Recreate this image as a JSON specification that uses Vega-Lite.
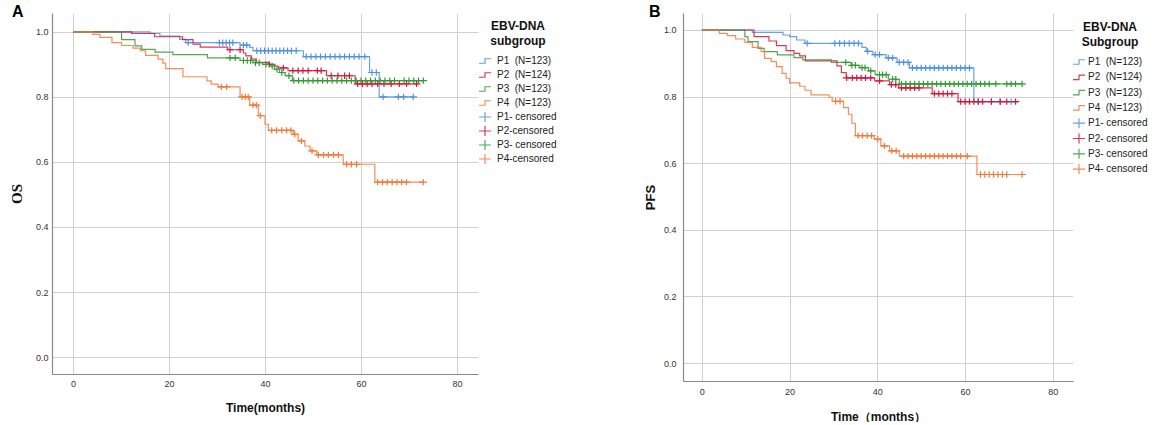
{
"$schema": "https://vega.github.io/schema/vega-lite/v6.json",
"background": "white",
"padding": {"left": 9, "top": 4, "right": 0, "bottom": 0},
"bounds": "flush",
"spacing": 205,
"config": {
  "font": "Liberation Sans",
  "view": {"stroke": null},
  "axis": {"grid": true, "gridColor": "#d0d0d0", "gridWidth": 1, "domainColor": "#8a8a8a", "domainWidth": 1.2, "ticks": false, "labelFont": "Liberation Sans", "labelFontSize": 9, "labelColor": "#333333", "titleColor": "#111111", "titleFontWeight": "bold"},
  "legend": {"gridAlign": "all"},
  "title": {"color": "#000000"}
},
"datasets": {
"curvesA": [
{"g":"P1\u00a0\u00a0(N=123)","t":0,"s":1},{"g":"P1\u00a0\u00a0(N=123)","t":16,"s":0.995},{"g":"P1\u00a0\u00a0(N=123)","t":18.1,"s":0.987},{"g":"P1\u00a0\u00a0(N=123)","t":22.2,"s":0.977},{"g":"P1\u00a0\u00a0(N=123)","t":23.5,"s":0.967},{"g":"P1\u00a0\u00a0(N=123)","t":34.8,"s":0.959},{"g":"P1\u00a0\u00a0(N=123)","t":36.8,"s":0.952},{"g":"P1\u00a0\u00a0(N=123)","t":37.5,"s":0.942},{"g":"P1\u00a0\u00a0(N=123)","t":48,"s":0.924},{"g":"P1\u00a0\u00a0(N=123)","t":61.8,"s":0.875},{"g":"P1\u00a0\u00a0(N=123)","t":63.8,"s":0.8},{"g":"P1\u00a0\u00a0(N=123)","t":71,"s":0.8},
{"g":"P2\u00a0\u00a0(N=124)","t":0,"s":1},{"g":"P2\u00a0\u00a0(N=124)","t":12.2,"s":0.995},{"g":"P2\u00a0\u00a0(N=124)","t":17,"s":0.985},{"g":"P2\u00a0\u00a0(N=124)","t":22.8,"s":0.976},{"g":"P2\u00a0\u00a0(N=124)","t":25,"s":0.962},{"g":"P2\u00a0\u00a0(N=124)","t":26.5,"s":0.953},{"g":"P2\u00a0\u00a0(N=124)","t":32.2,"s":0.945},{"g":"P2\u00a0\u00a0(N=124)","t":35.5,"s":0.935},{"g":"P2\u00a0\u00a0(N=124)","t":36,"s":0.926},{"g":"P2\u00a0\u00a0(N=124)","t":37.2,"s":0.916},{"g":"P2\u00a0\u00a0(N=124)","t":38.2,"s":0.906},{"g":"P2\u00a0\u00a0(N=124)","t":40.7,"s":0.9},{"g":"P2\u00a0\u00a0(N=124)","t":42.1,"s":0.895},{"g":"P2\u00a0\u00a0(N=124)","t":42.8,"s":0.889},{"g":"P2\u00a0\u00a0(N=124)","t":44.8,"s":0.881},{"g":"P2\u00a0\u00a0(N=124)","t":52.8,"s":0.865},{"g":"P2\u00a0\u00a0(N=124)","t":58.8,"s":0.84},{"g":"P2\u00a0\u00a0(N=124)","t":72,"s":0.84},
{"g":"P3\u00a0\u00a0(N=123)","t":0,"s":1},{"g":"P3\u00a0\u00a0(N=123)","t":10.1,"s":0.976},{"g":"P3\u00a0\u00a0(N=123)","t":12.9,"s":0.957},{"g":"P3\u00a0\u00a0(N=123)","t":14.3,"s":0.946},{"g":"P3\u00a0\u00a0(N=123)","t":17.1,"s":0.938},{"g":"P3\u00a0\u00a0(N=123)","t":20.8,"s":0.93},{"g":"P3\u00a0\u00a0(N=123)","t":28,"s":0.92},{"g":"P3\u00a0\u00a0(N=123)","t":34.8,"s":0.912},{"g":"P3\u00a0\u00a0(N=123)","t":37.5,"s":0.905},{"g":"P3\u00a0\u00a0(N=123)","t":39.5,"s":0.9},{"g":"P3\u00a0\u00a0(N=123)","t":41,"s":0.895},{"g":"P3\u00a0\u00a0(N=123)","t":42,"s":0.885},{"g":"P3\u00a0\u00a0(N=123)","t":43,"s":0.875},{"g":"P3\u00a0\u00a0(N=123)","t":44.2,"s":0.865},{"g":"P3\u00a0\u00a0(N=123)","t":45.7,"s":0.85},{"g":"P3\u00a0\u00a0(N=123)","t":73,"s":0.85},
{"g":"P4\u00a0\u00a0(N=123)","t":0,"s":1},{"g":"P4\u00a0\u00a0(N=123)","t":4.1,"s":0.992},{"g":"P4\u00a0\u00a0(N=123)","t":5.6,"s":0.983},{"g":"P4\u00a0\u00a0(N=123)","t":8.1,"s":0.967},{"g":"P4\u00a0\u00a0(N=123)","t":10.1,"s":0.958},{"g":"P4\u00a0\u00a0(N=123)","t":12.5,"s":0.95},{"g":"P4\u00a0\u00a0(N=123)","t":14,"s":0.942},{"g":"P4\u00a0\u00a0(N=123)","t":15.1,"s":0.928},{"g":"P4\u00a0\u00a0(N=123)","t":17.7,"s":0.916},{"g":"P4\u00a0\u00a0(N=123)","t":18.7,"s":0.904},{"g":"P4\u00a0\u00a0(N=123)","t":19.3,"s":0.887},{"g":"P4\u00a0\u00a0(N=123)","t":22.9,"s":0.862},{"g":"P4\u00a0\u00a0(N=123)","t":27.9,"s":0.849},{"g":"P4\u00a0\u00a0(N=123)","t":28.8,"s":0.839},{"g":"P4\u00a0\u00a0(N=123)","t":30.2,"s":0.831},{"g":"P4\u00a0\u00a0(N=123)","t":34.8,"s":0.8},{"g":"P4\u00a0\u00a0(N=123)","t":36.8,"s":0.775},{"g":"P4\u00a0\u00a0(N=123)","t":38.6,"s":0.742},{"g":"P4\u00a0\u00a0(N=123)","t":40,"s":0.716},{"g":"P4\u00a0\u00a0(N=123)","t":40.7,"s":0.697},{"g":"P4\u00a0\u00a0(N=123)","t":45.9,"s":0.685},{"g":"P4\u00a0\u00a0(N=123)","t":46.9,"s":0.665},{"g":"P4\u00a0\u00a0(N=123)","t":48.3,"s":0.649},{"g":"P4\u00a0\u00a0(N=123)","t":49.4,"s":0.634},{"g":"P4\u00a0\u00a0(N=123)","t":50.8,"s":0.622},{"g":"P4\u00a0\u00a0(N=123)","t":56.3,"s":0.593},{"g":"P4\u00a0\u00a0(N=123)","t":62.9,"s":0.538},{"g":"P4\u00a0\u00a0(N=123)","t":73,"s":0.538}
],
"censA": [
{"g":"P1- censored","t":24,"s":0.967},{"g":"P1- censored","t":30.5,"s":0.967},{"g":"P1- censored","t":31.2,"s":0.967},{"g":"P1- censored","t":31.9,"s":0.967},{"g":"P1- censored","t":32.6,"s":0.967},{"g":"P1- censored","t":33.3,"s":0.967},{"g":"P1- censored","t":35.5,"s":0.959},{"g":"P1- censored","t":36.2,"s":0.959},
{"g":"P1- censored","t":38.3,"s":0.942},{"g":"P1- censored","t":39.1,"s":0.942},{"g":"P1- censored","t":39.9,"s":0.942},{"g":"P1- censored","t":40.7,"s":0.942},{"g":"P1- censored","t":41.5,"s":0.942},{"g":"P1- censored","t":42.3,"s":0.942},{"g":"P1- censored","t":43.1,"s":0.942},{"g":"P1- censored","t":43.9,"s":0.942},{"g":"P1- censored","t":44.7,"s":0.942},{"g":"P1- censored","t":45.5,"s":0.942},{"g":"P1- censored","t":46.5,"s":0.942},
{"g":"P1- censored","t":48.6,"s":0.924},{"g":"P1- censored","t":49.6,"s":0.924},{"g":"P1- censored","t":50.6,"s":0.924},{"g":"P1- censored","t":51.6,"s":0.924},{"g":"P1- censored","t":52.6,"s":0.924},{"g":"P1- censored","t":53.6,"s":0.924},{"g":"P1- censored","t":54.6,"s":0.924},{"g":"P1- censored","t":55.6,"s":0.924},{"g":"P1- censored","t":56.6,"s":0.924},{"g":"P1- censored","t":57.6,"s":0.924},{"g":"P1- censored","t":58.6,"s":0.924},{"g":"P1- censored","t":59.6,"s":0.924},{"g":"P1- censored","t":60.8,"s":0.924},
{"g":"P1- censored","t":62.3,"s":0.875},{"g":"P1- censored","t":63.2,"s":0.875},{"g":"P1- censored","t":64.6,"s":0.8},{"g":"P1- censored","t":67.8,"s":0.8},{"g":"P1- censored","t":68.9,"s":0.8},{"g":"P1- censored","t":70.9,"s":0.8},
{"g":"P2-censored","t":32.7,"s":0.945},{"g":"P2-censored","t":34.8,"s":0.945},{"g":"P2-censored","t":40.9,"s":0.9},{"g":"P2-censored","t":43.8,"s":0.889},{"g":"P2-censored","t":45.8,"s":0.881},{"g":"P2-censored","t":46.9,"s":0.881},{"g":"P2-censored","t":47.9,"s":0.881},{"g":"P2-censored","t":49,"s":0.881},{"g":"P2-censored","t":50.9,"s":0.881},{"g":"P2-censored","t":51.7,"s":0.881},
{"g":"P2-censored","t":53.8,"s":0.865},{"g":"P2-censored","t":55.2,"s":0.865},{"g":"P2-censored","t":56.6,"s":0.865},{"g":"P2-censored","t":57.6,"s":0.865},
{"g":"P2-censored","t":59.3,"s":0.84},{"g":"P2-censored","t":60.3,"s":0.84},{"g":"P2-censored","t":61.3,"s":0.84},{"g":"P2-censored","t":62.3,"s":0.84},{"g":"P2-censored","t":63.5,"s":0.84},{"g":"P2-censored","t":64.8,"s":0.84},{"g":"P2-censored","t":66.3,"s":0.84},{"g":"P2-censored","t":68,"s":0.84},{"g":"P2-censored","t":69.5,"s":0.84},{"g":"P2-censored","t":71.6,"s":0.84},
{"g":"P3- censored","t":32.7,"s":0.92},{"g":"P3- censored","t":33.8,"s":0.92},{"g":"P3- censored","t":35.5,"s":0.912},{"g":"P3- censored","t":36.3,"s":0.912},{"g":"P3- censored","t":37,"s":0.912},{"g":"P3- censored","t":38,"s":0.905},{"g":"P3- censored","t":38.8,"s":0.905},{"g":"P3- censored","t":40.2,"s":0.9},{"g":"P3- censored","t":41.5,"s":0.895},{"g":"P3- censored","t":42.5,"s":0.885},{"g":"P3- censored","t":43.5,"s":0.875},{"g":"P3- censored","t":45,"s":0.865},
{"g":"P3- censored","t":46,"s":0.85},{"g":"P3- censored","t":47,"s":0.85},{"g":"P3- censored","t":48,"s":0.85},{"g":"P3- censored","t":49,"s":0.85},{"g":"P3- censored","t":50,"s":0.85},{"g":"P3- censored","t":51,"s":0.85},{"g":"P3- censored","t":52,"s":0.85},{"g":"P3- censored","t":53,"s":0.85},{"g":"P3- censored","t":54,"s":0.85},{"g":"P3- censored","t":55,"s":0.85},{"g":"P3- censored","t":56,"s":0.85},{"g":"P3- censored","t":57,"s":0.85},{"g":"P3- censored","t":58,"s":0.85},{"g":"P3- censored","t":59,"s":0.85},{"g":"P3- censored","t":60,"s":0.85},{"g":"P3- censored","t":61,"s":0.85},{"g":"P3- censored","t":62,"s":0.85},{"g":"P3- censored","t":63,"s":0.85},{"g":"P3- censored","t":64,"s":0.85},{"g":"P3- censored","t":65,"s":0.85},{"g":"P3- censored","t":66,"s":0.85},{"g":"P3- censored","t":67,"s":0.85},{"g":"P3- censored","t":69,"s":0.85},{"g":"P3- censored","t":70,"s":0.85},{"g":"P3- censored","t":71,"s":0.85},{"g":"P3- censored","t":72,"s":0.85},{"g":"P3- censored","t":73,"s":0.85},
{"g":"P4-censored","t":30.9,"s":0.831},{"g":"P4-censored","t":32,"s":0.831},{"g":"P4-censored","t":35.2,"s":0.8},{"g":"P4-censored","t":35.9,"s":0.8},{"g":"P4-censored","t":36.5,"s":0.8},{"g":"P4-censored","t":37.5,"s":0.775},{"g":"P4-censored","t":38.2,"s":0.775},{"g":"P4-censored","t":39,"s":0.742},
{"g":"P4-censored","t":41.4,"s":0.697},{"g":"P4-censored","t":42.4,"s":0.697},{"g":"P4-censored","t":43.5,"s":0.697},{"g":"P4-censored","t":44.5,"s":0.697},{"g":"P4-censored","t":45.4,"s":0.697},{"g":"P4-censored","t":46.2,"s":0.685},{"g":"P4-censored","t":47.6,"s":0.665},{"g":"P4-censored","t":49.8,"s":0.634},
{"g":"P4-censored","t":51.1,"s":0.622},{"g":"P4-censored","t":52.2,"s":0.622},{"g":"P4-censored","t":53.2,"s":0.622},{"g":"P4-censored","t":54.3,"s":0.622},{"g":"P4-censored","t":55.3,"s":0.622},{"g":"P4-censored","t":57,"s":0.593},{"g":"P4-censored","t":58,"s":0.593},{"g":"P4-censored","t":59.1,"s":0.593},
{"g":"P4-censored","t":63.5,"s":0.538},{"g":"P4-censored","t":64.5,"s":0.538},{"g":"P4-censored","t":65.5,"s":0.538},{"g":"P4-censored","t":66.5,"s":0.538},{"g":"P4-censored","t":67.5,"s":0.538},{"g":"P4-censored","t":68.5,"s":0.538},{"g":"P4-censored","t":69.5,"s":0.538},{"g":"P4-censored","t":73,"s":0.538}
],
"curvesB": [
{"g":"P1\u00a0\u00a0(N=123)","t":0,"s":1},{"g":"P1\u00a0\u00a0(N=123)","t":11.5,"s":0.993},{"g":"P1\u00a0\u00a0(N=123)","t":18.5,"s":0.985},{"g":"P1\u00a0\u00a0(N=123)","t":20,"s":0.98},{"g":"P1\u00a0\u00a0(N=123)","t":21.6,"s":0.97},{"g":"P1\u00a0\u00a0(N=123)","t":23.5,"s":0.96},{"g":"P1\u00a0\u00a0(N=123)","t":36.5,"s":0.948},{"g":"P1\u00a0\u00a0(N=123)","t":37.5,"s":0.936},{"g":"P1\u00a0\u00a0(N=123)","t":39,"s":0.926},{"g":"P1\u00a0\u00a0(N=123)","t":42,"s":0.916},{"g":"P1\u00a0\u00a0(N=123)","t":44.5,"s":0.903},{"g":"P1\u00a0\u00a0(N=123)","t":47.3,"s":0.886},{"g":"P1\u00a0\u00a0(N=123)","t":62,"s":0.785},{"g":"P1\u00a0\u00a0(N=123)","t":72,"s":0.785},
{"g":"P2\u00a0\u00a0(N=124)","t":0,"s":1},{"g":"P2\u00a0\u00a0(N=124)","t":11.9,"s":0.98},{"g":"P2\u00a0\u00a0(N=124)","t":15.3,"s":0.967},{"g":"P2\u00a0\u00a0(N=124)","t":17,"s":0.953},{"g":"P2\u00a0\u00a0(N=124)","t":19.2,"s":0.938},{"g":"P2\u00a0\u00a0(N=124)","t":21,"s":0.93},{"g":"P2\u00a0\u00a0(N=124)","t":22.3,"s":0.922},{"g":"P2\u00a0\u00a0(N=124)","t":23.6,"s":0.907},{"g":"P2\u00a0\u00a0(N=124)","t":30.8,"s":0.892},{"g":"P2\u00a0\u00a0(N=124)","t":31.8,"s":0.872},{"g":"P2\u00a0\u00a0(N=124)","t":32.9,"s":0.856},{"g":"P2\u00a0\u00a0(N=124)","t":39.4,"s":0.847},{"g":"P2\u00a0\u00a0(N=124)","t":42.8,"s":0.836},{"g":"P2\u00a0\u00a0(N=124)","t":44.9,"s":0.826},{"g":"P2\u00a0\u00a0(N=124)","t":52.5,"s":0.809},{"g":"P2\u00a0\u00a0(N=124)","t":58.4,"s":0.785},{"g":"P2\u00a0\u00a0(N=124)","t":72,"s":0.785},
{"g":"P3\u00a0\u00a0(N=123)","t":0,"s":1},{"g":"P3\u00a0\u00a0(N=123)","t":9.8,"s":0.98},{"g":"P3\u00a0\u00a0(N=123)","t":10.5,"s":0.965},{"g":"P3\u00a0\u00a0(N=123)","t":12.8,"s":0.945},{"g":"P3\u00a0\u00a0(N=123)","t":14.2,"s":0.935},{"g":"P3\u00a0\u00a0(N=123)","t":17.2,"s":0.925},{"g":"P3\u00a0\u00a0(N=123)","t":21,"s":0.917},{"g":"P3\u00a0\u00a0(N=123)","t":23,"s":0.91},{"g":"P3\u00a0\u00a0(N=123)","t":29.5,"s":0.903},{"g":"P3\u00a0\u00a0(N=123)","t":34,"s":0.894},{"g":"P3\u00a0\u00a0(N=123)","t":36,"s":0.887},{"g":"P3\u00a0\u00a0(N=123)","t":38,"s":0.877},{"g":"P3\u00a0\u00a0(N=123)","t":39.5,"s":0.866},{"g":"P3\u00a0\u00a0(N=123)","t":42.5,"s":0.852},{"g":"P3\u00a0\u00a0(N=123)","t":45,"s":0.838},{"g":"P3\u00a0\u00a0(N=123)","t":73,"s":0.838},
{"g":"P4\u00a0\u00a0(N=123)","t":0,"s":1},{"g":"P4\u00a0\u00a0(N=123)","t":4,"s":0.99},{"g":"P4\u00a0\u00a0(N=123)","t":5.8,"s":0.983},{"g":"P4\u00a0\u00a0(N=123)","t":7.7,"s":0.973},{"g":"P4\u00a0\u00a0(N=123)","t":9.8,"s":0.963},{"g":"P4\u00a0\u00a0(N=123)","t":11.5,"s":0.948},{"g":"P4\u00a0\u00a0(N=123)","t":13.5,"s":0.935},{"g":"P4\u00a0\u00a0(N=123)","t":14.3,"s":0.915},{"g":"P4\u00a0\u00a0(N=123)","t":15.8,"s":0.905},{"g":"P4\u00a0\u00a0(N=123)","t":17,"s":0.89},{"g":"P4\u00a0\u00a0(N=123)","t":18.3,"s":0.87},{"g":"P4\u00a0\u00a0(N=123)","t":19.2,"s":0.855},{"g":"P4\u00a0\u00a0(N=123)","t":20,"s":0.841},{"g":"P4\u00a0\u00a0(N=123)","t":22.3,"s":0.831},{"g":"P4\u00a0\u00a0(N=123)","t":23.5,"s":0.819},{"g":"P4\u00a0\u00a0(N=123)","t":24.9,"s":0.805},{"g":"P4\u00a0\u00a0(N=123)","t":29,"s":0.798},{"g":"P4\u00a0\u00a0(N=123)","t":29.7,"s":0.786},{"g":"P4\u00a0\u00a0(N=123)","t":32.3,"s":0.767},{"g":"P4\u00a0\u00a0(N=123)","t":33.4,"s":0.747},{"g":"P4\u00a0\u00a0(N=123)","t":34.2,"s":0.72},{"g":"P4\u00a0\u00a0(N=123)","t":35,"s":0.683},{"g":"P4\u00a0\u00a0(N=123)","t":39.3,"s":0.672},{"g":"P4\u00a0\u00a0(N=123)","t":40.8,"s":0.652},{"g":"P4\u00a0\u00a0(N=123)","t":42.8,"s":0.637},{"g":"P4\u00a0\u00a0(N=123)","t":45,"s":0.621},{"g":"P4\u00a0\u00a0(N=123)","t":62.7,"s":0.566},{"g":"P4\u00a0\u00a0(N=123)","t":73,"s":0.566}
],
"censB": [
{"g":"P1- censored","t":24,"s":0.96},{"g":"P1- censored","t":30.3,"s":0.96},{"g":"P1- censored","t":31.4,"s":0.96},{"g":"P1- censored","t":32.5,"s":0.96},{"g":"P1- censored","t":33.6,"s":0.96},{"g":"P1- censored","t":34.7,"s":0.96},{"g":"P1- censored","t":35.7,"s":0.96},{"g":"P1- censored","t":37.8,"s":0.936},{"g":"P1- censored","t":39.5,"s":0.926},{"g":"P1- censored","t":40.5,"s":0.926},{"g":"P1- censored","t":42.5,"s":0.916},{"g":"P1- censored","t":43.5,"s":0.916},{"g":"P1- censored","t":45,"s":0.903},{"g":"P1- censored","t":46,"s":0.903},{"g":"P1- censored","t":47,"s":0.903},
{"g":"P1- censored","t":48,"s":0.886},{"g":"P1- censored","t":49,"s":0.886},{"g":"P1- censored","t":50,"s":0.886},{"g":"P1- censored","t":51,"s":0.886},{"g":"P1- censored","t":52,"s":0.886},{"g":"P1- censored","t":53,"s":0.886},{"g":"P1- censored","t":54,"s":0.886},{"g":"P1- censored","t":55,"s":0.886},{"g":"P1- censored","t":56,"s":0.886},{"g":"P1- censored","t":57,"s":0.886},{"g":"P1- censored","t":58,"s":0.886},{"g":"P1- censored","t":59,"s":0.886},{"g":"P1- censored","t":60,"s":0.886},{"g":"P1- censored","t":61,"s":0.886},
{"g":"P1- censored","t":63,"s":0.785},{"g":"P1- censored","t":66,"s":0.785},{"g":"P1- censored","t":68,"s":0.785},{"g":"P1- censored","t":70.5,"s":0.785},
{"g":"P2- censored","t":33,"s":0.856},{"g":"P2- censored","t":34.3,"s":0.856},{"g":"P2- censored","t":35.3,"s":0.856},{"g":"P2- censored","t":36.3,"s":0.856},{"g":"P2- censored","t":37.3,"s":0.856},{"g":"P2- censored","t":38.5,"s":0.856},{"g":"P2- censored","t":40.5,"s":0.847},{"g":"P2- censored","t":43.2,"s":0.836},{"g":"P2- censored","t":44.2,"s":0.836},
{"g":"P2- censored","t":45.5,"s":0.826},{"g":"P2- censored","t":46.5,"s":0.826},{"g":"P2- censored","t":47.5,"s":0.826},{"g":"P2- censored","t":48.5,"s":0.826},{"g":"P2- censored","t":49.5,"s":0.826},
{"g":"P2- censored","t":53,"s":0.809},{"g":"P2- censored","t":54,"s":0.809},{"g":"P2- censored","t":55,"s":0.809},{"g":"P2- censored","t":56,"s":0.809},{"g":"P2- censored","t":57,"s":0.809},
{"g":"P2- censored","t":59,"s":0.785},{"g":"P2- censored","t":60,"s":0.785},{"g":"P2- censored","t":61,"s":0.785},{"g":"P2- censored","t":62,"s":0.785},{"g":"P2- censored","t":63,"s":0.785},{"g":"P2- censored","t":64,"s":0.785},{"g":"P2- censored","t":66,"s":0.785},{"g":"P2- censored","t":68,"s":0.785},{"g":"P2- censored","t":69.5,"s":0.785},{"g":"P2- censored","t":71.5,"s":0.785},
{"g":"P3- censored","t":32.8,"s":0.903},{"g":"P3- censored","t":34.2,"s":0.894},{"g":"P3- censored","t":35,"s":0.894},{"g":"P3- censored","t":36.5,"s":0.887},{"g":"P3- censored","t":37.2,"s":0.887},{"g":"P3- censored","t":38.5,"s":0.877},{"g":"P3- censored","t":40.5,"s":0.866},{"g":"P3- censored","t":41.2,"s":0.866},{"g":"P3- censored","t":42,"s":0.866},{"g":"P3- censored","t":43.5,"s":0.852},{"g":"P3- censored","t":44.2,"s":0.852},
{"g":"P3- censored","t":45.5,"s":0.838},{"g":"P3- censored","t":46.5,"s":0.838},{"g":"P3- censored","t":47.5,"s":0.838},{"g":"P3- censored","t":48.5,"s":0.838},{"g":"P3- censored","t":49.5,"s":0.838},{"g":"P3- censored","t":50.5,"s":0.838},{"g":"P3- censored","t":51.5,"s":0.838},{"g":"P3- censored","t":52.5,"s":0.838},{"g":"P3- censored","t":53.5,"s":0.838},{"g":"P3- censored","t":54.5,"s":0.838},{"g":"P3- censored","t":55.5,"s":0.838},{"g":"P3- censored","t":56.5,"s":0.838},{"g":"P3- censored","t":57.5,"s":0.838},{"g":"P3- censored","t":58.5,"s":0.838},{"g":"P3- censored","t":59.5,"s":0.838},{"g":"P3- censored","t":60.5,"s":0.838},{"g":"P3- censored","t":61.5,"s":0.838},{"g":"P3- censored","t":62.5,"s":0.838},{"g":"P3- censored","t":63.5,"s":0.838},{"g":"P3- censored","t":64.5,"s":0.838},{"g":"P3- censored","t":65.5,"s":0.838},{"g":"P3- censored","t":67,"s":0.838},{"g":"P3- censored","t":69.5,"s":0.838},{"g":"P3- censored","t":70.5,"s":0.838},{"g":"P3- censored","t":71.5,"s":0.838},{"g":"P3- censored","t":73,"s":0.838},
{"g":"P4- censored","t":30.5,"s":0.786},{"g":"P4- censored","t":31.5,"s":0.786},{"g":"P4- censored","t":35.6,"s":0.683},{"g":"P4- censored","t":36.6,"s":0.683},{"g":"P4- censored","t":37.7,"s":0.683},{"g":"P4- censored","t":38.7,"s":0.683},{"g":"P4- censored","t":40.1,"s":0.672},{"g":"P4- censored","t":41.6,"s":0.652},{"g":"P4- censored","t":43.3,"s":0.637},{"g":"P4- censored","t":44.3,"s":0.637},
{"g":"P4- censored","t":46,"s":0.621},{"g":"P4- censored","t":47,"s":0.621},{"g":"P4- censored","t":48,"s":0.621},{"g":"P4- censored","t":49,"s":0.621},{"g":"P4- censored","t":50,"s":0.621},{"g":"P4- censored","t":51,"s":0.621},{"g":"P4- censored","t":52,"s":0.621},{"g":"P4- censored","t":53,"s":0.621},{"g":"P4- censored","t":54,"s":0.621},{"g":"P4- censored","t":55,"s":0.621},{"g":"P4- censored","t":56,"s":0.621},{"g":"P4- censored","t":57,"s":0.621},{"g":"P4- censored","t":58,"s":0.621},{"g":"P4- censored","t":59,"s":0.621},{"g":"P4- censored","t":60.5,"s":0.621},
{"g":"P4- censored","t":63.5,"s":0.566},{"g":"P4- censored","t":64.5,"s":0.566},{"g":"P4- censored","t":65.5,"s":0.566},{"g":"P4- censored","t":66.5,"s":0.566},{"g":"P4- censored","t":67.5,"s":0.566},{"g":"P4- censored","t":68.5,"s":0.566},{"g":"P4- censored","t":69.5,"s":0.566},{"g":"P4- censored","t":73,"s":0.566}
]
},
"resolve": {"scale": {"color": "independent", "shape": "independent"}, "legend": {"color": "independent", "shape": "independent"}},
"hconcat": [
{
  "width": 426, "height": 361,
  "title": {"text": "A", "anchor": "start", "frame": "group", "dx": -40, "dy": 20, "offset": 0, "fontSize": 16, "fontWeight": "bold", "baseline": "alphabetic", "font": "Liberation Sans"},
  "encoding": {
    "x": {"field": "t", "type": "quantitative", "scale": {"domain": [-4.4, 84.4], "nice": false, "zero": false}, "axis": {"values": [0,20,40,60,80], "format": "d", "title": "Time(months)", "titleFontSize": 12, "labelPadding": 5, "titlePadding": 14}},
    "y": {"field": "s", "type": "quantitative", "scale": {"domain": [-0.052, 1.058], "nice": false, "zero": false}, "axis": {"values": [0,0.2,0.4,0.6,0.8,1], "format": ".1f", "title": "OS", "titleFont": "Liberation Serif", "titleFontSize": 15, "labelPadding": 4, "titlePadding": 11}},
    "color": {"field": "g", "type": "nominal",
      "scale": {"domain": ["P1\u00a0\u00a0(N=123)","P2\u00a0\u00a0(N=124)","P3\u00a0\u00a0(N=123)","P4\u00a0\u00a0(N=123)","P1- censored","P2-censored","P3- censored","P4-censored"], "range": ["#4F93E0","#D2173F","#359A35","#F27A3A","#4F93E0","#D2173F","#359A35","#F27A3A"]},
      "legend": {"orient": "none", "legendX": 427, "legendY": 8, "title": ["EBV-DNA", "subgroup"], "titleAnchor": "middle", "titleAlign": "center", "titleFontSize": 12, "titleFontWeight": "bold", "titleLineHeight": 15, "titlePadding": 7, "titleColor": "#111111", "labelFontSize": 10, "labelColor": "#222222", "symbolSize": 100, "rowPadding": -2.3, "labelOffset": 6, "symbolStrokeWidth": 1.2, "padding": 0, "gridAlign": "all", "encode": {"symbols": {"update": {"fill": {"value": "transparent"}}}}}
    }
  },
  "layer": [
    {"data": {"name": "curvesA"}, "mark": {"type": "line", "interpolate": "step-after", "strokeWidth": 1.2, "opacity": 0.85}},
    {"data": {"name": "censA"}, "mark": {"type": "point", "size": 40, "filled": false, "strokeWidth": 1.2, "opacity": 1},
     "encoding": {"shape": {"field": "g", "type": "nominal",
       "scale": {"domain": ["P1\u00a0\u00a0(N=123)","P2\u00a0\u00a0(N=124)","P3\u00a0\u00a0(N=123)","P4\u00a0\u00a0(N=123)","P1- censored","P2-censored","P3- censored","P4-censored"], "range": ["M-1.2,0.45H0V-0.45H1.2","M-1.2,0.45H0V-0.45H1.2","M-1.2,0.45H0V-0.45H1.2","M-1.2,0.45H0V-0.45H1.2","M-1.2,0H1.2M0,-1V1","M-1.2,0H1.2M0,-1V1","M-1.2,0H1.2M0,-1V1","M-1.2,0H1.2M0,-1V1"]},
       "legend": {"orient": "none", "legendX": 427, "legendY": 8, "title": ["EBV-DNA", "subgroup"], "titleAnchor": "middle", "titleAlign": "center", "titleFontSize": 12, "titleFontWeight": "bold", "titleLineHeight": 15, "titlePadding": 7, "titleColor": "#111111", "labelFontSize": 10, "labelColor": "#222222", "symbolSize": 100, "rowPadding": -2.3, "labelOffset": 6, "symbolStrokeWidth": 1.2, "padding": 0, "gridAlign": "all", "encode": {"symbols": {"update": {"fill": {"value": "transparent"}}}}}}}}
  ]
},
{
  "width": 390, "height": 368,
  "title": {"text": "B", "anchor": "start", "frame": "group", "dx": -34, "dy": 20, "offset": 0, "fontSize": 16, "fontWeight": "bold", "baseline": "alphabetic", "font": "Liberation Sans"},
  "encoding": {
    "x": {"field": "t", "type": "quantitative", "scale": {"domain": [-4.3, 84.6], "nice": false, "zero": false}, "axis": {"values": [0,20,40,60,80], "format": "d", "title": "Time（months）", "titleFontSize": 12, "labelPadding": 6, "titlePadding": 15}},
    "y": {"field": "s", "type": "quantitative", "scale": {"domain": [-0.054, 1.051], "nice": false, "zero": false}, "axis": {"values": [0,0.2,0.4,0.6,0.8,1], "format": ".1f", "title": "PFS", "titleFontSize": 13, "labelPadding": 7, "titlePadding": 6}},
    "color": {"field": "g", "type": "nominal",
      "scale": {"domain": ["P1\u00a0\u00a0(N=123)","P2\u00a0\u00a0(N=124)","P3\u00a0\u00a0(N=123)","P4\u00a0\u00a0(N=123)","P1- censored","P2- censored","P3- censored","P4- censored"], "range": ["#4F93E0","#D2173F","#359A35","#F27A3A","#4F93E0","#D2173F","#359A35","#F27A3A"]},
      "legend": {"orient": "none", "legendX": 390, "legendY": 9, "title": ["EBV-DNA", "Subgroup"], "titleAnchor": "middle", "titleAlign": "center", "titleFontSize": 12, "titleFontWeight": "bold", "titleLineHeight": 15, "titlePadding": 7, "titleColor": "#111111", "labelFontSize": 10, "labelColor": "#222222", "symbolSize": 100, "rowPadding": -0.7, "labelOffset": 3, "symbolStrokeWidth": 1.2, "padding": 0, "gridAlign": "all", "encode": {"symbols": {"update": {"fill": {"value": "transparent"}}}}}
    }
  },
  "layer": [
    {"data": {"name": "curvesB"}, "mark": {"type": "line", "interpolate": "step-after", "strokeWidth": 1.2, "opacity": 0.85}},
    {"data": {"name": "censB"}, "mark": {"type": "point", "size": 40, "filled": false, "strokeWidth": 1.2, "opacity": 1},
     "encoding": {"shape": {"field": "g", "type": "nominal",
       "scale": {"domain": ["P1\u00a0\u00a0(N=123)","P2\u00a0\u00a0(N=124)","P3\u00a0\u00a0(N=123)","P4\u00a0\u00a0(N=123)","P1- censored","P2- censored","P3- censored","P4- censored"], "range": ["M-1.2,0.45H0V-0.45H1.2","M-1.2,0.45H0V-0.45H1.2","M-1.2,0.45H0V-0.45H1.2","M-1.2,0.45H0V-0.45H1.2","M-1.2,0H1.2M0,-1V1","M-1.2,0H1.2M0,-1V1","M-1.2,0H1.2M0,-1V1","M-1.2,0H1.2M0,-1V1"]},
       "legend": {"orient": "none", "legendX": 390, "legendY": 9, "title": ["EBV-DNA", "Subgroup"], "titleAnchor": "middle", "titleAlign": "center", "titleFontSize": 12, "titleFontWeight": "bold", "titleLineHeight": 15, "titlePadding": 7, "titleColor": "#111111", "labelFontSize": 10, "labelColor": "#222222", "symbolSize": 100, "rowPadding": -0.7, "labelOffset": 3, "symbolStrokeWidth": 1.2, "padding": 0, "gridAlign": "all", "encode": {"symbols": {"update": {"fill": {"value": "transparent"}}}}}}}}
  ]
}
]
}
